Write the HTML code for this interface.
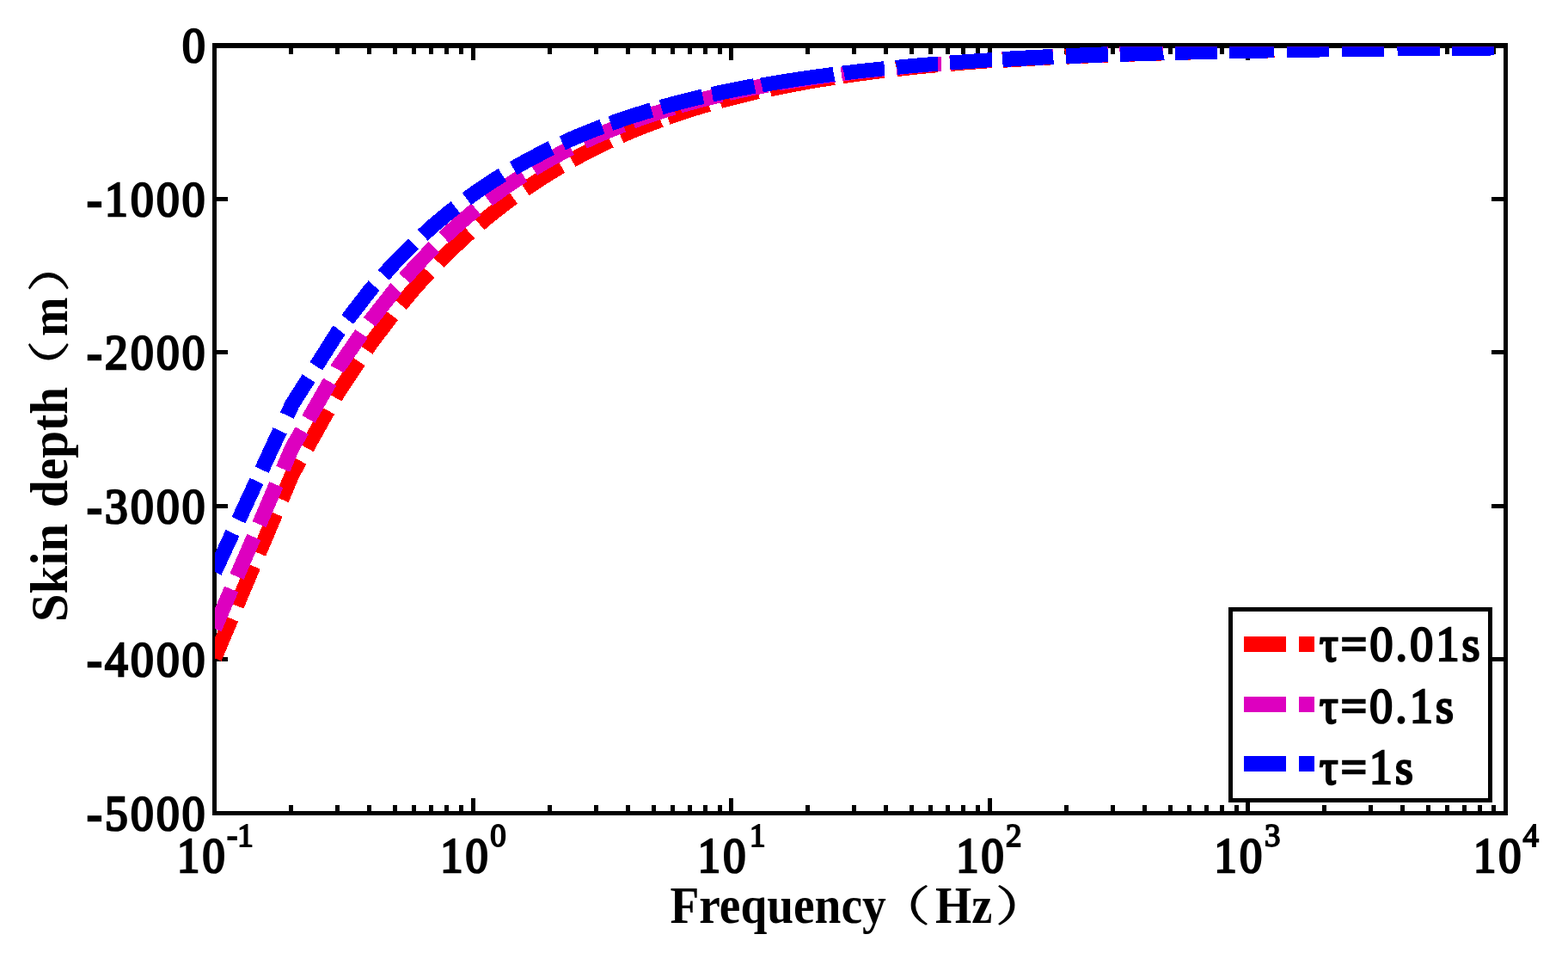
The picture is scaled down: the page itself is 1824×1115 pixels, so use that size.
<!DOCTYPE html>
<html lang="en"><head><meta charset="utf-8"><title>Skin depth vs frequency</title>
<style>html,body{margin:0;padding:0;background:#fff}body{width:1824px;height:1115px;overflow:hidden}svg{display:block}</style></head>
<body>
<svg width="1824" height="1115" viewBox="0 0 1824 1115">
<rect x="0" y="0" width="1824" height="1115" fill="#fff"/>
<defs><clipPath id="ax"><rect x="250" y="54.2" width="1501.6" height="891.2"/></clipPath></defs>
<path d="M338.5,52.9v9.8 M338.5,945.5v-9.8 M392.5,52.9v9.8 M392.5,945.5v-9.8 M429.5,52.9v9.8 M429.5,945.5v-9.8 M459.5,52.9v9.8 M459.5,945.5v-9.8 M481.5,52.9v9.8 M481.5,945.5v-9.8 M501.5,52.9v9.8 M501.5,945.5v-9.8 M519.5,52.9v9.8 M519.5,945.5v-9.8 M536.5,52.9v9.8 M536.5,945.5v-9.8 M550.5,52.9v17.5 M550.5,945.5v-17.5 M639.5,52.9v9.8 M639.5,945.5v-9.8 M693.5,52.9v9.8 M693.5,945.5v-9.8 M730.5,52.9v9.8 M730.5,945.5v-9.8 M760.5,52.9v9.8 M760.5,945.5v-9.8 M782.5,52.9v9.8 M782.5,945.5v-9.8 M802.5,52.9v9.8 M802.5,945.5v-9.8 M820.5,52.9v9.8 M820.5,945.5v-9.8 M837.5,52.9v9.8 M837.5,945.5v-9.8 M850.5,52.9v17.5 M850.5,945.5v-17.5 M939.5,52.9v9.8 M939.5,945.5v-9.8 M993.5,52.9v9.8 M993.5,945.5v-9.8 M1030.5,52.9v9.8 M1030.5,945.5v-9.8 M1060.5,52.9v9.8 M1060.5,945.5v-9.8 M1082.5,52.9v9.8 M1082.5,945.5v-9.8 M1102.5,52.9v9.8 M1102.5,945.5v-9.8 M1120.5,52.9v9.8 M1120.5,945.5v-9.8 M1137.5,52.9v9.8 M1137.5,945.5v-9.8 M1151.5,52.9v17.5 M1151.5,945.5v-17.5 M1240.5,52.9v9.8 M1240.5,945.5v-9.8 M1294.5,52.9v9.8 M1294.5,945.5v-9.8 M1331.5,52.9v9.8 M1331.5,945.5v-9.8 M1361.5,52.9v9.8 M1361.5,945.5v-9.8 M1383.5,52.9v9.8 M1383.5,945.5v-9.8 M1403.5,52.9v9.8 M1403.5,945.5v-9.8 M1421.5,52.9v9.8 M1421.5,945.5v-9.8 M1438.5,52.9v9.8 M1438.5,945.5v-9.8 M1451.5,52.9v17.5 M1451.5,945.5v-17.5 M1540.5,52.9v9.8 M1540.5,945.5v-9.8 M1594.5,52.9v9.8 M1594.5,945.5v-9.8 M1631.5,52.9v9.8 M1631.5,945.5v-9.8 M1661.5,52.9v9.8 M1661.5,945.5v-9.8 M1683.5,52.9v9.8 M1683.5,945.5v-9.8 M1703.5,52.9v9.8 M1703.5,945.5v-9.8 M1721.5,52.9v9.8 M1721.5,945.5v-9.8 M1737.5,52.9v9.8 M1737.5,945.5v-9.8" fill="none" stroke="#000" stroke-width="5" shape-rendering="crispEdges"/>
<path d="M249.5,231.5h15.5 M1751.5,231.5h-17.0 M249.5,409.5h15.5 M1751.5,409.5h-17.0 M249.5,588.5h15.5 M1751.5,588.5h-17.0 M249.5,766.5h15.5 M1751.5,766.5h-17.0" fill="none" stroke="#000" stroke-width="5" shape-rendering="crispEdges"/>
<rect x="249.5" y="52.9" width="1502.0" height="892.6" fill="none" stroke="#000" stroke-width="5.5" shape-rendering="crispEdges"/>
<g clip-path="url(#ax)" fill="none" shape-rendering="crispEdges">
<path d="M249.5,765.2 L269.0,719.2 M275.3,704.3 L294.7,658.3 M301.1,643.3 L320.5,597.3 M327.6,580.7 L339.9,551.4 L348.8,535.5 M357.0,520.9 L381.4,477.3 M389.8,462.2 L392.8,456.9 L417.2,420.3 M426.2,406.8 L430.4,400.6 L456.0,366.8 M466.1,354.3 L483.3,333.9 L499.0,316.7 M510.1,305.1 L520.8,294.3 L536.2,279.7 L546.3,270.6 M557.7,260.7 L562.3,256.7 L573.7,247.4 L584.1,239.3 L593.8,232.0 L596.9,229.8 M610.6,220.0 L611.2,219.6 L619.1,214.3 L626.6,209.4 L633.6,204.9 L640.3,200.7 L646.7,196.9 L652.9,193.3 M665.2,186.2 L669.4,183.9 L674.6,181.2 L679.5,178.6 L684.2,176.1 L688.8,173.8 L693.2,171.6 L697.5,169.5 L701.6,167.5 L705.7,165.6 L709.8,163.6 M721.9,158.2 L724.1,157.2 L727.5,155.7 L730.8,154.3 L734.0,152.9 L737.1,151.6 L740.2,150.4 L743.2,149.1 L746.1,148.0 L749.0,146.8 L751.8,145.7 L754.5,144.7 L757.2,143.6 L759.9,142.6 L762.5,141.7 L765.0,140.7 L767.5,139.8 L768.2,139.5 M776.8,136.4 L779.2,135.6 L781.5,134.8 L783.7,134.1 L785.8,133.3 L787.9,132.6 L790.0,131.9 L792.1,131.2 L794.1,130.6 L796.1,129.9 L798.1,129.3 L800.0,128.7 L801.9,128.0 L803.8,127.5 L805.6,126.9 L807.4,126.3 L809.2,125.7 L811.0,125.2 L812.8,124.7 L814.5,124.1 L816.2,123.6 L817.9,123.1 L819.5,122.6 L821.2,122.2 L822.8,121.7 L824.4,121.2 M837.4,117.6 L838.0,117.4 L839.4,117.0 L840.8,116.6 L842.2,116.2 L843.6,115.9 L845.0,115.5 L846.3,115.2 L847.7,114.8 L849.0,114.5 L850.3,114.1 L852.1,113.6 L853.9,113.2 L855.7,112.7 L857.5,112.3 L859.3,111.8 L861.1,111.4 L862.9,110.9 L864.7,110.5 L866.6,110.0 L868.4,109.6 L870.2,109.2 L872.0,108.7 L873.8,108.3 L875.6,107.9 L877.4,107.5 L879.2,107.0 L881.0,106.6 L882.0,106.4" stroke="#ff0000" stroke-width="17.5"/>
<path d="M895.9,103.9 L897.3,103.7 L899.1,103.3 L900.9,102.9 L902.7,102.5 L904.5,102.1 L906.3,101.8 L908.1,101.4 L909.9,101.0 L911.7,100.7 L913.5,100.3 L915.3,100.0 L917.1,99.6 L918.9,99.2 L920.7,98.9 L922.5,98.6 L924.3,98.2 L926.2,97.9 L928.0,97.5 L929.8,97.2 L931.6,96.9 L933.4,96.5 L935.2,96.2 L937.0,95.9 L938.8,95.5 L940.6,95.2 L942.4,94.9 L944.2,94.6 L946.0,94.3 L947.8,94.0 L949.6,93.7 L951.4,93.4 L953.2,93.1 L955.0,92.8 L956.9,92.5 L958.7,92.2 L960.5,91.9 L962.3,91.6 L964.1,91.3 L965.9,91.0 L967.7,90.7 L969.5,90.4 L970.0,90.3 M980.2,88.8 L982.1,88.5 L983.9,88.2 L985.8,88.0 L987.6,87.7 L989.4,87.4 L991.2,87.2 L993.0,86.9 L994.8,86.7 L996.6,86.4 L998.4,86.2 L1000.2,85.9 L1002.0,85.7 L1003.8,85.4 L1005.6,85.2 L1007.4,85.0 L1009.2,84.7 L1011.0,84.5 L1012.8,84.3 L1014.6,84.0 L1016.5,83.8 L1018.3,83.6 L1020.1,83.3 L1021.9,83.1 L1023.7,82.9 L1025.5,82.7 L1027.3,82.4 L1028.8,82.3 M1043.1,80.6 L1043.5,80.5 L1045.3,80.3 L1047.2,80.1 L1049.0,79.9 L1050.8,79.7 L1052.6,79.5 L1054.4,79.3 L1056.2,79.1 L1058.0,78.9 L1059.8,78.8 L1061.6,78.6 L1063.4,78.4 L1065.2,78.2 L1067.0,78.0 L1068.8,77.8 L1070.6,77.6 L1072.4,77.5 L1074.2,77.3 L1076.1,77.1 L1077.9,76.9 L1079.7,76.7 L1081.5,76.6 L1083.3,76.4 L1085.1,76.2 L1086.9,76.1 L1088.7,75.9 L1090.5,75.7 L1090.8,75.7 M1105.1,74.4 L1106.8,74.3 L1108.6,74.1 L1110.4,74.0 L1112.2,73.8 L1114.0,73.7 L1115.8,73.5 L1117.6,73.4 L1119.4,73.2 L1121.2,73.1 L1123.0,72.9 L1124.8,72.8 L1126.6,72.6 L1128.4,72.5 L1130.2,72.3 L1132.0,72.2 L1133.8,72.1 L1135.6,71.9 L1137.5,71.8 L1139.3,71.7 L1141.1,71.5 L1142.9,71.4 L1144.7,71.3 L1146.5,71.1 L1148.3,71.0 L1150.1,70.9 L1151.9,70.7 L1153.7,70.6 L1154.2,70.6" stroke="#ff0000" stroke-width="17.0"/>
<path d="M1166.2,69.9 L1168.2,69.7 L1170.0,69.6 L1171.8,69.5 L1173.6,69.4 L1175.4,69.3 L1177.2,69.1 L1179.0,69.0 L1180.8,68.9 L1182.6,68.8 L1184.4,68.7 L1186.2,68.6 L1188.0,68.5 L1189.8,68.4 L1191.6,68.3 L1193.4,68.1 L1195.2,68.0 L1197.1,67.9 L1198.9,67.8 L1200.7,67.7 L1202.5,67.6 L1204.3,67.5 L1206.1,67.4 L1207.9,67.3 L1209.7,67.2 L1211.5,67.1 L1213.3,67.0 L1215.1,66.9 L1216.9,66.8 L1218.7,66.7 L1220.5,66.6 L1222.3,66.5 L1224.1,66.4 L1225.1,66.4 M1239.9,65.7 L1240.4,65.6 L1242.2,65.5 L1244.0,65.5 L1245.8,65.4 L1247.6,65.3 L1249.4,65.2 L1251.2,65.1 L1253.0,65.0 L1254.8,65.0 L1256.7,64.9 L1258.5,64.8 L1260.3,64.7 L1262.1,64.6 L1263.9,64.5 L1265.7,64.5 L1267.5,64.4 L1269.3,64.3 L1271.1,64.2 L1272.9,64.2 L1274.7,64.1 L1276.5,64.0 L1278.3,63.9 L1280.1,63.9 L1281.9,63.8 L1283.7,63.7 L1285.5,63.6 L1287.4,63.6 L1288.9,63.5" stroke="#ff0000" stroke-width="18.0"/>
<path d="M1303.0,62.8 L1303.6,62.7 L1305.4,62.7 L1307.2,62.6 L1309.0,62.5 L1310.8,62.5 L1312.6,62.4 L1314.4,62.3 L1316.3,62.3 L1318.1,62.2 L1319.9,62.2 L1321.7,62.1 L1323.5,62.0 L1325.3,62.0 L1327.1,61.9 L1328.9,61.8 L1330.7,61.8 L1332.5,61.7 L1334.3,61.7 L1336.1,61.6 L1337.9,61.6 L1339.7,61.5 L1341.5,61.4 L1343.3,61.4 L1345.1,61.3 L1347.0,61.3 L1348.8,61.2 L1350.6,61.2 L1352.4,61.1 L1352.9,61.1 M1367.2,60.7 L1368.6,60.6 L1370.4,60.6 L1372.2,60.5 L1374.0,60.5 L1375.8,60.4 L1377.7,60.4 L1379.5,60.3 L1381.3,60.3 L1383.1,60.2 L1384.9,60.2 L1386.7,60.1 L1388.5,60.1 L1390.3,60.0 L1392.1,60.0 L1393.9,59.9 L1395.7,59.9 L1397.5,59.8 L1399.3,59.8 L1401.1,59.8 L1402.9,59.7 L1404.7,59.7 L1406.6,59.6 L1408.4,59.6 L1410.2,59.5 L1412.0,59.5 L1413.8,59.4 L1415.6,59.4 L1415.9,59.4 M1430.3,59.1 L1431.8,59.0 L1433.6,59.0 L1435.4,59.0 L1437.3,58.9 L1439.1,58.9 L1440.9,58.8 L1442.7,58.8 L1444.5,58.8 L1446.3,58.7 L1448.1,58.7 L1449.9,58.7 L1451.7,58.6 L1453.5,58.6 L1455.3,58.5 L1457.1,58.5 L1458.9,58.5 L1460.7,58.4 L1462.5,58.4 L1464.3,58.4 L1466.2,58.3 L1468.0,58.3 L1469.8,58.3 L1471.6,58.2 L1473.4,58.2 L1475.2,58.2 L1477.0,58.1 L1478.8,58.1 L1480.6,58.1 L1482.0,58.0 M1497.0,57.8 L1498.7,57.7 L1500.5,57.7 L1502.3,57.7 L1504.1,57.7 L1505.9,57.6 L1507.7,57.6 L1509.5,57.6 L1511.3,57.5 L1513.1,57.5 L1514.9,57.5 L1516.7,57.4 L1518.5,57.4 L1520.3,57.4 L1522.1,57.4 L1523.9,57.3 L1525.7,57.3 L1527.6,57.3 L1529.4,57.3 L1531.2,57.2 L1533.0,57.2 L1534.8,57.2 L1536.6,57.1 L1538.4,57.1 L1540.2,57.1 L1542.0,57.1 L1543.8,57.0 L1545.6,57.0 L1546.0,57.0 M1561.0,56.8 L1561.9,56.8 L1563.7,56.8 L1565.5,56.8 L1567.3,56.7 L1569.1,56.7 L1570.9,56.7 L1572.7,56.7 L1574.5,56.6 L1576.3,56.6 L1578.1,56.6 L1579.9,56.6 L1581.7,56.5 L1583.5,56.5 L1585.3,56.5 L1587.2,56.5 L1589.0,56.5 L1590.8,56.4 L1592.6,56.4 L1594.4,56.4 L1596.2,56.4 L1598.0,56.4 L1599.8,56.3 L1601.6,56.3 L1603.4,56.3 L1605.2,56.3 L1607.0,56.3 L1608.8,56.2 L1609.9,56.2 M1625.3,56.1 L1626.9,56.0 L1628.7,56.0 L1630.5,56.0 L1632.3,56.0 L1634.1,56.0 L1635.9,56.0 L1637.7,55.9 L1639.5,55.9 L1641.3,55.9 L1643.1,55.9 L1644.9,55.9 L1646.8,55.9 L1648.6,55.8 L1650.4,55.8 L1652.2,55.8 L1654.0,55.8 L1655.8,55.8 L1657.6,55.8 L1659.4,55.7 L1661.2,55.7 L1663.0,55.7 L1664.8,55.7 L1666.6,55.7 L1668.4,55.7 L1670.2,55.6 L1672.0,55.6 L1673.8,55.6 L1675.0,55.6 M1688.8,55.5 L1690.1,55.5 L1691.9,55.5 L1693.7,55.4 L1695.5,55.4 L1697.3,55.4 L1699.1,55.4 L1700.9,55.4 L1702.7,55.4 L1704.5,55.4 L1706.3,55.3 L1708.2,55.3 L1710.0,55.3 L1711.8,55.3 L1713.6,55.3 L1715.4,55.3 L1717.2,55.3 L1719.0,55.3 L1720.8,55.2 L1722.6,55.2 L1724.4,55.2 L1726.2,55.2 L1728.0,55.2 L1729.8,55.2 L1731.6,55.2 L1733.4,55.2 L1735.2,55.1 L1737.1,55.1 L1738.0,55.1" stroke="#ff0000" stroke-width="18.6"/>
<path d="M249.5,730.9 L269.2,685.0 M275.5,670.3 L295.3,624.4 M301.6,609.6 L321.4,563.6 M329.2,545.3 L339.9,520.4 L351.3,500.6 M358.9,487.4 L383.7,444.0 M392.2,429.2 L392.8,428.1 L420.5,388.0 M429.8,374.4 L430.4,373.6 L459.5,336.6 L460.8,335.2 M470.8,323.7 L483.3,309.6 L503.4,288.7 L504.9,287.2 M516.3,276.2 L520.8,271.9 L536.2,258.1 L549.9,246.5 L553.9,243.2 M567.7,232.4 L573.7,227.9 L584.1,220.3 L593.8,213.6 L602.8,207.5 L608.7,203.8 M620.4,196.4 L626.6,192.7 L633.6,188.6 L640.3,184.8 L646.7,181.3 L652.8,178.0 L658.6,175.0 L664.1,172.2 M678.9,164.9 L679.5,164.6 L684.2,162.4 L688.8,160.3 L693.2,158.3 L697.5,156.5 L701.6,154.7 L705.7,153.0 L709.6,151.3 L713.3,149.8 L717.0,148.3 L720.6,146.9 L724.1,145.5 L724.8,145.2 M736.4,140.8 L737.1,140.6 L740.2,139.4 L743.2,138.4 L746.1,137.3 L749.0,136.3 L751.8,135.3 L754.5,134.4 L757.2,133.5 L759.9,132.6 L762.5,131.7 L765.0,130.9 L767.5,130.1 L769.9,129.3 L772.3,128.6 L774.7,127.8 L777.0,127.1 L779.2,126.4 L781.5,125.7 L783.8,125.0 M790.9,122.9 L792.1,122.6 L794.1,122.0 L796.1,121.4 L798.1,120.9 L800.0,120.3 L801.9,119.8 L803.8,119.3 L805.6,118.8 L807.4,118.3 L809.2,117.8 L811.0,117.3 L812.8,116.9 L814.5,116.4 L816.2,116.0 L817.9,115.5 L819.5,115.1 L821.2,114.7 L822.8,114.3 L824.4,113.9 L826.0,113.5 L827.6,113.1 L829.1,112.7 L830.6,112.3 L832.1,111.9 L833.6,111.6 L835.1,111.2 L836.6,110.9 L838.0,110.5 L839.3,110.2 M848.0,108.2 L849.0,108.0 L850.3,107.7 L852.1,107.3 L853.9,106.9 L855.7,106.5 L857.5,106.1 L859.3,105.7 L861.1,105.3 L862.9,104.9 L864.7,104.5 L866.6,104.2 L868.4,103.8 L870.2,103.4 L872.0,103.0 L873.8,102.7 L875.6,102.3 L877.4,101.9 L879.2,101.6 L881.0,101.2 L882.8,100.9 L884.6,100.5 L886.4,100.2 L888.2,99.8 L890.0,99.5 L891.8,99.1 L893.0,98.9" stroke="#dd00bf" stroke-width="17.5"/>
<path d="M906.0,97.1 L908.1,96.8 L909.9,96.5 L911.7,96.1 L913.5,95.8 L915.3,95.5 L917.1,95.2 L918.9,94.9 L920.7,94.6 L922.5,94.3 L924.3,94.0 L926.2,93.7 L928.0,93.4 L929.8,93.1 L931.6,92.9 L933.4,92.6 L935.2,92.3 L937.0,92.0 L938.8,91.7 L940.6,91.4 L942.4,91.2 L944.2,90.9 L946.0,90.6 L947.8,90.4 L949.6,90.1 L951.4,89.8 L953.2,89.6 L955.0,89.3 L956.9,89.0 L958.7,88.8 L960.5,88.5 L962.3,88.3 L964.1,88.0 L965.9,87.8 L967.7,87.5 L969.5,87.3 L970.0,87.2 M978.8,86.1 L980.3,85.9 L982.1,85.6 L983.9,85.4 L985.8,85.2 L987.6,84.9 L989.4,84.7 L991.2,84.5 L993.0,84.3 L994.8,84.0 L996.6,83.8 L998.4,83.6 L1000.2,83.4 L1002.0,83.2 L1003.8,83.0 L1005.6,82.8 L1007.4,82.5 L1009.2,82.3 L1011.0,82.1 L1012.8,81.9 L1014.6,81.7 L1016.5,81.5 L1018.3,81.3 L1020.1,81.1 L1021.9,80.9 L1023.7,80.7 L1025.5,80.5 L1027.3,80.3 L1028.8,80.2 M1043.1,78.7 L1043.5,78.7 L1045.3,78.5 L1047.2,78.3 L1049.0,78.1 L1050.8,78.0 L1052.6,77.8 L1054.4,77.6 L1056.2,77.4 L1058.0,77.3 L1059.8,77.1 L1061.6,76.9 L1063.4,76.8 L1065.2,76.6 L1067.0,76.4 L1068.8,76.3 L1070.6,76.1 L1072.4,76.0 L1074.2,75.8 L1076.1,75.6 L1077.9,75.5 L1079.7,75.3 L1081.5,75.2 L1083.3,75.0 L1085.1,74.9 L1086.9,74.7 L1088.7,74.6 L1090.5,74.4 L1092.3,74.3 L1094.1,74.1 L1094.8,74.1 M1105.1,73.3 L1106.8,73.1 L1108.6,73.0 L1110.4,72.8 L1112.2,72.7 L1114.0,72.6 L1115.8,72.4 L1117.6,72.3 L1119.4,72.2 L1121.2,72.0 L1123.0,71.9 L1124.8,71.8 L1126.6,71.7 L1128.4,71.5 L1130.2,71.4 L1132.0,71.3 L1133.8,71.2 L1135.6,71.0 L1137.5,70.9 L1139.3,70.8 L1141.1,70.7 L1142.9,70.5 L1144.7,70.4 L1146.5,70.3 L1148.3,70.2 L1150.1,70.1 L1151.9,69.9 L1153.7,69.8 L1154.2,69.8" stroke="#dd00bf" stroke-width="17.0"/>
<path d="M1166.2,69.2 L1168.2,69.0 L1170.0,68.9 L1171.8,68.8 L1173.6,68.7 L1175.4,68.6 L1177.2,68.5 L1179.0,68.4 L1180.8,68.3 L1182.6,68.2 L1184.4,68.1 L1186.2,68.0 L1188.0,67.9 L1189.8,67.8 L1191.6,67.7 L1193.4,67.6 L1195.2,67.5 L1197.1,67.4 L1198.9,67.3 L1200.7,67.2 L1202.5,67.1 L1204.3,67.0 L1206.1,66.9 L1207.9,66.8 L1209.7,66.7 L1211.5,66.6 L1213.3,66.6 L1215.1,66.5 L1216.9,66.4 L1218.7,66.3 L1220.5,66.2 L1222.3,66.1 L1224.1,66.0 L1225.1,66.0 M1239.9,65.3 L1240.4,65.3 L1242.2,65.2 L1244.0,65.1 L1245.8,65.0 L1247.6,64.9 L1249.4,64.9 L1251.2,64.8 L1253.0,64.7 L1254.8,64.6 L1256.7,64.6 L1258.5,64.5 L1260.3,64.4 L1262.1,64.3 L1263.9,64.3 L1265.7,64.2 L1267.5,64.1 L1269.3,64.0 L1271.1,64.0 L1272.9,63.9 L1274.7,63.8 L1276.5,63.7 L1278.3,63.7 L1280.1,63.6 L1281.9,63.5 L1283.7,63.5 L1285.5,63.4 L1287.4,63.3 L1288.9,63.3" stroke="#dd00bf" stroke-width="18.0"/>
<path d="M1303.0,62.6 L1303.6,62.5 L1305.4,62.5 L1307.2,62.4 L1309.0,62.3 L1310.8,62.3 L1312.6,62.2 L1314.4,62.2 L1316.3,62.1 L1318.1,62.0 L1319.9,62.0 L1321.7,61.9 L1323.5,61.9 L1325.3,61.8 L1327.1,61.7 L1328.9,61.7 L1330.7,61.6 L1332.5,61.6 L1334.3,61.5 L1336.1,61.5 L1337.9,61.4 L1339.7,61.3 L1341.5,61.3 L1343.3,61.2 L1345.1,61.2 L1347.0,61.1 L1348.8,61.1 L1350.6,61.0 L1352.4,61.0 L1352.9,61.0 M1367.2,60.6 L1368.6,60.5 L1370.4,60.5 L1372.2,60.4 L1374.0,60.4 L1375.8,60.3 L1377.7,60.3 L1379.5,60.2 L1381.3,60.2 L1383.1,60.1 L1384.9,60.1 L1386.7,60.0 L1388.5,60.0 L1390.3,59.9 L1392.1,59.9 L1393.9,59.9 L1395.7,59.8 L1397.5,59.8 L1399.3,59.7 L1401.1,59.7 L1402.9,59.6 L1404.7,59.6 L1406.6,59.5 L1408.4,59.5 L1410.2,59.5 L1412.0,59.4 L1413.8,59.4 L1415.6,59.3 L1415.9,59.3 M1430.3,59.0 L1431.8,59.0 L1433.6,58.9 L1435.4,58.9 L1437.3,58.9 L1439.1,58.8 L1440.9,58.8 L1442.7,58.8 L1444.5,58.7 L1446.3,58.7 L1448.1,58.6 L1449.9,58.6 L1451.7,58.6 L1453.5,58.5 L1455.3,58.5 L1457.1,58.5 L1458.9,58.4 L1460.7,58.4 L1462.5,58.4 L1464.3,58.3 L1466.2,58.3 L1468.0,58.3 L1469.8,58.2 L1471.6,58.2 L1473.4,58.2 L1475.2,58.1 L1477.0,58.1 L1478.8,58.1 L1480.6,58.0 L1482.0,58.0 M1497.0,57.7 L1498.7,57.7 L1500.5,57.7 L1502.3,57.7 L1504.1,57.6 L1505.9,57.6 L1507.7,57.6 L1509.5,57.5 L1511.3,57.5 L1513.1,57.5 L1514.9,57.5 L1516.7,57.4 L1518.5,57.4 L1520.3,57.4 L1522.1,57.3 L1523.9,57.3 L1525.7,57.3 L1527.6,57.3 L1529.4,57.2 L1531.2,57.2 L1533.0,57.2 L1534.8,57.2 L1536.6,57.1 L1538.4,57.1 L1540.2,57.1 L1542.0,57.1 L1543.8,57.0 L1545.6,57.0 L1546.0,57.0 M1561.0,56.8 L1561.9,56.8 L1563.7,56.8 L1565.5,56.7 L1567.3,56.7 L1569.1,56.7 L1570.9,56.7 L1572.7,56.6 L1574.5,56.6 L1576.3,56.6 L1578.1,56.6 L1579.9,56.6 L1581.7,56.5 L1583.5,56.5 L1585.3,56.5 L1587.2,56.5 L1589.0,56.5 L1590.8,56.4 L1592.6,56.4 L1594.4,56.4 L1596.2,56.4 L1598.0,56.3 L1599.8,56.3 L1601.6,56.3 L1603.4,56.3 L1605.2,56.3 L1607.0,56.2 L1608.8,56.2 L1609.9,56.2 M1625.3,56.1 L1626.9,56.0 L1628.7,56.0 L1630.5,56.0 L1632.3,56.0 L1634.1,56.0 L1635.9,55.9 L1637.7,55.9 L1639.5,55.9 L1641.3,55.9 L1643.1,55.9 L1644.9,55.9 L1646.8,55.8 L1648.6,55.8 L1650.4,55.8 L1652.2,55.8 L1654.0,55.8 L1655.8,55.8 L1657.6,55.7 L1659.4,55.7 L1661.2,55.7 L1663.0,55.7 L1664.8,55.7 L1666.6,55.7 L1668.4,55.6 L1670.2,55.6 L1672.0,55.6 L1673.8,55.6 L1675.0,55.6 M1688.8,55.5 L1690.1,55.5 L1691.9,55.5 L1693.7,55.4 L1695.5,55.4 L1697.3,55.4 L1699.1,55.4 L1700.9,55.4 L1702.7,55.4 L1704.5,55.4 L1706.3,55.3 L1708.2,55.3 L1710.0,55.3 L1711.8,55.3 L1713.6,55.3 L1715.4,55.3 L1717.2,55.3 L1719.0,55.3 L1720.8,55.2 L1722.6,55.2 L1724.4,55.2 L1726.2,55.2 L1728.0,55.2 L1729.8,55.2 L1731.6,55.2 L1733.4,55.2 L1735.2,55.1 L1737.1,55.1 L1738.0,55.1" stroke="#dd00bf" stroke-width="18.6"/>
<path d="M249.5,665.0 L270.5,619.7 M277.5,604.7 L298.5,559.3 M304.6,546.2 L325.6,500.8 M333.9,483.0 L339.9,470.0 L359.0,439.9 M367.8,425.8 L392.8,386.3 L394.8,383.8 M404.2,371.5 L430.4,337.6 L435.1,332.2 M446.2,319.8 L459.5,304.9 L480.7,283.7 M491.8,273.4 L503.4,262.8 L520.8,248.2 L529.9,241.1 M542.9,231.3 L549.9,226.2 L562.3,217.5 L573.7,210.1 L584.3,203.4 M597.2,195.7 L602.8,192.5 L611.2,187.8 L619.1,183.6 L626.6,179.7 L633.6,176.1 L640.3,172.8 L641.4,172.3 M654.3,166.3 L658.6,164.4 L664.1,161.9 L669.4,159.6 L674.6,157.4 L679.5,155.4 L684.2,153.5 L688.8,151.7 L693.2,149.9 L697.5,148.3 L700.5,147.2 M710.4,143.5 L713.3,142.5 L717.0,141.2 L720.6,139.9 L724.1,138.7 L727.5,137.6 L730.8,136.5 L734.0,135.4 L737.1,134.4 L740.2,133.4 L743.2,132.5 L746.1,131.6 L749.0,130.7 L751.8,129.8 L754.5,129.0 L757.2,128.2 L757.9,128.0 M769.2,124.7 L769.9,124.5 L772.3,123.8 L774.7,123.2 L777.0,122.5 L779.2,121.9 L781.5,121.3 L783.7,120.7 L785.8,120.2 L787.9,119.6 L790.0,119.1 L792.1,118.5 L794.1,118.0 L796.1,117.5 L798.1,117.0 L800.0,116.5 L801.9,116.1 L803.8,115.6 L805.6,115.1 L807.4,114.7 L809.2,114.3 L811.0,113.8 L812.8,113.4 L814.5,113.0 L816.2,112.6 L817.6,112.3 M828.5,109.8 L829.1,109.7 L830.6,109.3 L832.1,109.0 L833.6,108.7 L835.1,108.4 L836.6,108.0 L838.0,107.7 L839.4,107.4 L840.8,107.1 L842.2,106.8 L843.6,106.5 L845.0,106.3 L846.3,106.0 L847.7,105.7 L849.0,105.4 L850.3,105.2 L852.1,104.8 L853.9,104.4 L855.7,104.1 L857.5,103.7 L859.3,103.4 L861.1,103.0 L862.9,102.7 L864.7,102.3 L866.6,102.0 L868.4,101.6 L870.2,101.3 L872.0,100.9 L873.8,100.6 L875.6,100.3 L877.6,99.9" stroke="#0000ff" stroke-width="17.5"/>
<path d="M886.0,99.0 L886.4,98.9 L888.2,98.6 L890.0,98.3 L891.8,98.0 L893.6,97.7 L895.5,97.3 L897.3,97.0 L899.1,96.7 L900.9,96.4 L902.7,96.1 L904.5,95.8 L906.3,95.5 L908.1,95.2 L909.9,95.0 L911.7,94.7 L913.5,94.4 L915.3,94.1 L917.1,93.8 L918.9,93.5 L920.7,93.2 L922.5,93.0 L924.3,92.7 L926.2,92.4 L928.0,92.1 L929.8,91.9 L931.6,91.6 L933.4,91.3 L935.2,91.1 L937.0,90.8 L938.8,90.6 L940.6,90.3 L942.4,90.0 L944.2,89.8 L946.0,89.5 L947.8,89.3 L949.6,89.0 L951.4,88.8 L953.2,88.5 L955.0,88.3 L956.9,88.1 L958.7,87.8 L960.5,87.6 L962.3,87.3 L964.1,87.1 L965.9,86.9 L967.7,86.6 L969.5,86.4 L970.0,86.3 M981.8,84.9 L982.1,84.8 L983.9,84.6 L985.8,84.4 L987.6,84.2 L989.4,84.0 L991.2,83.8 L993.0,83.6 L994.8,83.3 L996.6,83.1 L998.4,82.9 L1000.2,82.7 L1002.0,82.5 L1003.8,82.3 L1005.6,82.1 L1007.4,81.9 L1009.2,81.7 L1011.0,81.5 L1012.8,81.3 L1014.6,81.1 L1016.5,81.0 L1018.3,80.8 L1020.1,80.6 L1021.9,80.4 L1023.7,80.2 L1025.5,80.0 L1027.3,79.8 L1028.8,79.7 M1043.1,78.3 L1043.5,78.2 L1045.3,78.1 L1047.2,77.9 L1049.0,77.7 L1050.8,77.6 L1052.6,77.4 L1054.4,77.2 L1056.2,77.1 L1058.0,76.9 L1059.8,76.7 L1061.6,76.6 L1063.4,76.4 L1065.2,76.3 L1067.0,76.1 L1068.8,75.9 L1070.6,75.8 L1072.4,75.6 L1074.2,75.5 L1076.1,75.3 L1077.9,75.2 L1079.7,75.0 L1081.5,74.9 L1083.3,74.7 L1085.1,74.6 L1086.9,74.4 L1088.7,74.3 L1090.5,74.1 L1090.8,74.1 M1105.1,73.0 L1106.8,72.9 L1108.6,72.8 L1110.4,72.6 L1112.2,72.5 L1114.0,72.4 L1115.8,72.2 L1117.6,72.1 L1119.4,72.0 L1121.2,71.8 L1123.0,71.7 L1124.8,71.6 L1126.6,71.5 L1128.4,71.3 L1130.2,71.2 L1132.0,71.1 L1133.8,71.0 L1135.6,70.9 L1137.5,70.7 L1139.3,70.6 L1141.1,70.5 L1142.9,70.4 L1144.7,70.3 L1146.5,70.1 L1148.3,70.0 L1150.1,69.9 L1151.9,69.8 L1153.7,69.7 L1154.2,69.7" stroke="#0000ff" stroke-width="17.0"/>
<path d="M1166.2,69.0 L1168.2,68.9 L1170.0,68.8 L1171.8,68.7 L1173.6,68.6 L1175.4,68.5 L1177.2,68.4 L1179.0,68.3 L1180.8,68.2 L1182.6,68.1 L1184.4,68.0 L1186.2,67.9 L1188.0,67.8 L1189.8,67.7 L1191.6,67.6 L1193.4,67.5 L1195.2,67.4 L1197.1,67.3 L1198.9,67.2 L1200.7,67.1 L1202.5,67.0 L1204.3,66.9 L1206.1,66.8 L1207.9,66.7 L1209.7,66.7 L1211.5,66.6 L1213.3,66.5 L1215.1,66.4 L1216.9,66.3 L1218.7,66.2 L1220.5,66.1 L1222.3,66.0 L1224.1,66.0 L1225.1,65.9 M1239.9,65.2 L1240.4,65.2 L1242.2,65.1 L1244.0,65.0 L1245.8,65.0 L1247.6,64.9 L1249.4,64.8 L1251.2,64.7 L1253.0,64.7 L1254.8,64.6 L1256.7,64.5 L1258.5,64.4 L1260.3,64.4 L1262.1,64.3 L1263.9,64.2 L1265.7,64.1 L1267.5,64.1 L1269.3,64.0 L1271.1,63.9 L1272.9,63.8 L1274.7,63.8 L1276.5,63.7 L1278.3,63.6 L1280.1,63.6 L1281.9,63.5 L1283.7,63.4 L1285.5,63.4 L1287.4,63.3 L1288.9,63.2" stroke="#0000ff" stroke-width="18.0"/>
<path d="M1303.0,62.5 L1303.6,62.5 L1305.4,62.4 L1307.2,62.4 L1309.0,62.3 L1310.8,62.3 L1312.6,62.2 L1314.4,62.1 L1316.3,62.1 L1318.1,62.0 L1319.9,62.0 L1321.7,61.9 L1323.5,61.8 L1325.3,61.8 L1327.1,61.7 L1328.9,61.7 L1330.7,61.6 L1332.5,61.6 L1334.3,61.5 L1336.1,61.4 L1337.9,61.4 L1339.7,61.3 L1341.5,61.3 L1343.3,61.2 L1345.1,61.2 L1347.0,61.1 L1348.8,61.1 L1350.6,61.0 L1352.4,61.0 L1352.9,60.9 M1367.2,60.5 L1368.6,60.5 L1370.4,60.4 L1372.2,60.4 L1374.0,60.4 L1375.8,60.3 L1377.7,60.3 L1379.5,60.2 L1381.3,60.2 L1383.1,60.1 L1384.9,60.1 L1386.7,60.0 L1388.5,60.0 L1390.3,59.9 L1392.1,59.9 L1393.9,59.8 L1395.7,59.8 L1397.5,59.8 L1399.3,59.7 L1401.1,59.7 L1402.9,59.6 L1404.7,59.6 L1406.6,59.5 L1408.4,59.5 L1410.2,59.5 L1412.0,59.4 L1413.8,59.4 L1415.6,59.3 L1415.9,59.3 M1430.3,59.0 L1431.8,59.0 L1433.6,58.9 L1435.4,58.9 L1437.3,58.9 L1439.1,58.8 L1440.9,58.8 L1442.7,58.7 L1444.5,58.7 L1446.3,58.7 L1448.1,58.6 L1449.9,58.6 L1451.7,58.6 L1453.5,58.5 L1455.3,58.5 L1457.1,58.5 L1458.9,58.4 L1460.7,58.4 L1462.5,58.4 L1464.3,58.3 L1466.2,58.3 L1468.0,58.3 L1469.8,58.2 L1471.6,58.2 L1473.4,58.2 L1475.2,58.1 L1477.0,58.1 L1478.8,58.1 L1480.6,58.0 L1482.0,58.0 M1497.0,57.7 L1498.7,57.7 L1500.5,57.7 L1502.3,57.7 L1504.1,57.6 L1505.9,57.6 L1507.7,57.6 L1509.5,57.5 L1511.3,57.5 L1513.1,57.5 L1514.9,57.5 L1516.7,57.4 L1518.5,57.4 L1520.3,57.4 L1522.1,57.3 L1523.9,57.3 L1525.7,57.3 L1527.6,57.3 L1529.4,57.2 L1531.2,57.2 L1533.0,57.2 L1534.8,57.2 L1536.6,57.1 L1538.4,57.1 L1540.2,57.1 L1542.0,57.1 L1543.8,57.0 L1545.6,57.0 L1546.0,57.0 M1561.0,56.8 L1561.9,56.8 L1563.7,56.8 L1565.5,56.7 L1567.3,56.7 L1569.1,56.7 L1570.9,56.7 L1572.7,56.6 L1574.5,56.6 L1576.3,56.6 L1578.1,56.6 L1579.9,56.6 L1581.7,56.5 L1583.5,56.5 L1585.3,56.5 L1587.2,56.5 L1589.0,56.5 L1590.8,56.4 L1592.6,56.4 L1594.4,56.4 L1596.2,56.4 L1598.0,56.3 L1599.8,56.3 L1601.6,56.3 L1603.4,56.3 L1605.2,56.3 L1607.0,56.2 L1608.8,56.2 L1609.9,56.2 M1625.3,56.1 L1626.9,56.0 L1628.7,56.0 L1630.5,56.0 L1632.3,56.0 L1634.1,56.0 L1635.9,55.9 L1637.7,55.9 L1639.5,55.9 L1641.3,55.9 L1643.1,55.9 L1644.9,55.9 L1646.8,55.8 L1648.6,55.8 L1650.4,55.8 L1652.2,55.8 L1654.0,55.8 L1655.8,55.8 L1657.6,55.7 L1659.4,55.7 L1661.2,55.7 L1663.0,55.7 L1664.8,55.7 L1666.6,55.7 L1668.4,55.6 L1670.2,55.6 L1672.0,55.6 L1673.8,55.6 L1675.0,55.6 M1688.8,55.5 L1690.1,55.5 L1691.9,55.5 L1693.7,55.4 L1695.5,55.4 L1697.3,55.4 L1699.1,55.4 L1700.9,55.4 L1702.7,55.4 L1704.5,55.4 L1706.3,55.3 L1708.2,55.3 L1710.0,55.3 L1711.8,55.3 L1713.6,55.3 L1715.4,55.3 L1717.2,55.3 L1719.0,55.3 L1720.8,55.2 L1722.6,55.2 L1724.4,55.2 L1726.2,55.2 L1728.0,55.2 L1729.8,55.2 L1731.6,55.2 L1733.4,55.2 L1735.2,55.1 L1737.1,55.1 L1738.0,55.1" stroke="#0000ff" stroke-width="18.6"/>
</g>
<rect x="1431.5" y="708.5" width="302" height="222" fill="#fff" stroke="#000" stroke-width="5" shape-rendering="crispEdges"/>
<path d="M1447,749h49M1511,749h18" stroke="#ff0000" stroke-width="18" fill="none" shape-rendering="crispEdges"/>
<path d="M1447,819h49M1511,819h18" stroke="#dd00bf" stroke-width="18" fill="none" shape-rendering="crispEdges"/>
<path d="M1447,888h49M1511,888h18" stroke="#0000ff" stroke-width="18" fill="none" shape-rendering="crispEdges"/>
<g font-family="'Liberation Serif', 'Noto Serif CJK SC', serif" fill="#000" font-size="61">
<g font-size="57.4" stroke="#000" stroke-width="2.7" stroke-linejoin="miter" stroke-miterlimit="2.5" letter-spacing="3.5">
<text x="1535" y="768" textLength="189.8" lengthAdjust="spacingAndGlyphs">τ=0.01s</text>
<text x="1535" y="840" textLength="159.0" lengthAdjust="spacingAndGlyphs">τ=0.1s</text>
<text x="1535" y="911" textLength="111.9" lengthAdjust="spacingAndGlyphs">τ=1s</text>
<text x="212" y="72.1" textLength="30" lengthAdjust="spacingAndGlyphs">0</text>
<text x="101" y="250.6" textLength="140.8" lengthAdjust="spacingAndGlyphs">-1000</text>
<text x="101" y="429.1" textLength="140.8" lengthAdjust="spacingAndGlyphs">-2000</text>
<text x="101" y="607.7" textLength="140.8" lengthAdjust="spacingAndGlyphs">-3000</text>
<text x="101" y="786.2" textLength="140.8" lengthAdjust="spacingAndGlyphs">-4000</text>
<text x="101" y="964.7" textLength="140.8" lengthAdjust="spacingAndGlyphs">-5000</text>
<text y="1014.2"><tspan x="206" textLength="58.8" lengthAdjust="spacingAndGlyphs">10</tspan><tspan x="264" y="984.2" font-size="36.9" stroke-width="1.8" letter-spacing="0">-1</tspan></text>
<text y="1014.2"><tspan x="512.2" textLength="58.8" lengthAdjust="spacingAndGlyphs">10</tspan><tspan x="570.3" y="984.2" font-size="36.9" stroke-width="1.8" letter-spacing="0">0</tspan></text>
<text y="1014.2"><tspan x="811.8" textLength="58.8" lengthAdjust="spacingAndGlyphs">10</tspan><tspan x="872" y="984.2" font-size="36.9" stroke-width="1.8" letter-spacing="0">1</tspan></text>
<text y="1014.2"><tspan x="1112.2" textLength="58.8" lengthAdjust="spacingAndGlyphs">10</tspan><tspan x="1170" y="984.2" font-size="36.9" stroke-width="1.8" letter-spacing="0">2</tspan></text>
<text y="1014.2"><tspan x="1412.6" textLength="58.8" lengthAdjust="spacingAndGlyphs">10</tspan><tspan x="1471" y="984.2" font-size="36.9" stroke-width="1.8" letter-spacing="0">3</tspan></text>
<text y="1014.2"><tspan x="1713.9" textLength="58.8" lengthAdjust="spacingAndGlyphs">10</tspan><tspan x="1771.5" y="984.2" font-size="36.9" stroke-width="1.8" letter-spacing="0">4</tspan></text>
</g>
<g font-weight="bold">
<text y="1073"><tspan x="779.4" textLength="251.3" lengthAdjust="spacingAndGlyphs">Frequency</tspan><tspan x="1019.5" y="1071" font-weight="normal" font-size="48.5" stroke="#000" stroke-width="1.0" textLength="62.6" lengthAdjust="spacingAndGlyphs">（</tspan><tspan x="1088.1" y="1073" textLength="66.2" lengthAdjust="spacingAndGlyphs">Hz</tspan><tspan x="1157.9" y="1071" font-weight="normal" font-size="48.5" stroke="#000" stroke-width="1.0" textLength="62.6" lengthAdjust="spacingAndGlyphs">）</tspan></text>
<text transform="translate(78,0) rotate(-90)" y="0"><tspan x="-723" textLength="114" lengthAdjust="spacingAndGlyphs">Skin</tspan><tspan> </tspan><tspan x="-590" textLength="140" lengthAdjust="spacingAndGlyphs">depth</tspan><tspan x="-458.5" y="-3.5" font-weight="normal" font-size="48.5" stroke="#000" stroke-width="1.0" textLength="62.6" lengthAdjust="spacingAndGlyphs">（</tspan><tspan x="-391" y="0" textLength="45.5" lengthAdjust="spacingAndGlyphs">m</tspan><tspan x="-339.6" y="-3.5" font-weight="normal" font-size="48.5" stroke="#000" stroke-width="1.0" textLength="62.6" lengthAdjust="spacingAndGlyphs">）</tspan></text>
</g>
</g>
</svg>
</body></html>
